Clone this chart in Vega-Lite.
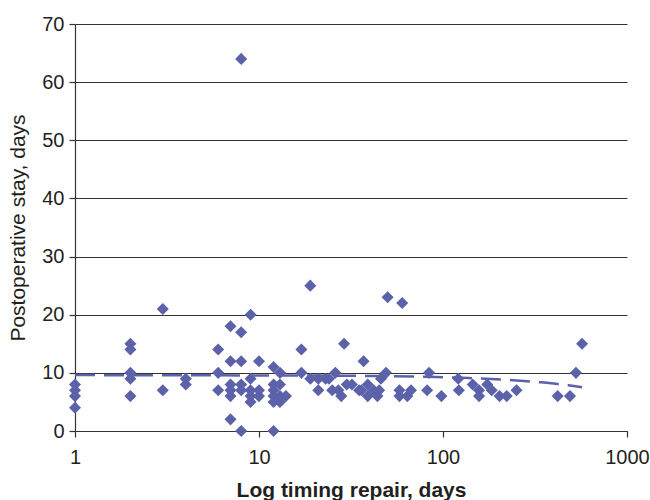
{
  "$schema": "https://vega.github.io/schema/vega-lite/v6.json",
  "autosize": "none",
  "width": 552,
  "height": 407,
  "padding": {"left": 75, "top": 24, "right": 23, "bottom": 69},
  "background": "white",
  "config": {
    "view": {"stroke": null},
    "font": "Liberation Sans",
    "axis": {
      "labelFont": "Liberation Sans",
      "titleFont": "Liberation Sans",
      "labelFontSize": 20,
      "titleFontSize": 21,
      "labelColor": "#231f20",
      "titleColor": "#231f20",
      "domainColor": "#333333",
      "domainWidth": 1.2,
      "tickColor": "#333333",
      "tickWidth": 1.2,
      "tickSize": 6,
      "gridColor": "#333333",
      "gridWidth": 1,
      "gridOpacity": 1
    }
  },
  "data": {
    "values": [
      {"timing": 1, "stay": 8}, {"timing": 1, "stay": 7}, {"timing": 1, "stay": 6}, {"timing": 1, "stay": 4},
      {"timing": 2, "stay": 15}, {"timing": 2, "stay": 14}, {"timing": 2, "stay": 10}, {"timing": 2, "stay": 9}, {"timing": 2, "stay": 6},
      {"timing": 3, "stay": 21}, {"timing": 3, "stay": 7},
      {"timing": 4, "stay": 9}, {"timing": 4, "stay": 8},
      {"timing": 6, "stay": 14}, {"timing": 6, "stay": 10}, {"timing": 6, "stay": 7},
      {"timing": 7, "stay": 18}, {"timing": 7, "stay": 12}, {"timing": 7, "stay": 8}, {"timing": 7, "stay": 7}, {"timing": 7, "stay": 6}, {"timing": 7, "stay": 2},
      {"timing": 8, "stay": 64}, {"timing": 8, "stay": 17}, {"timing": 8, "stay": 12}, {"timing": 8, "stay": 8}, {"timing": 8, "stay": 7}, {"timing": 8, "stay": 0},
      {"timing": 9, "stay": 20}, {"timing": 9, "stay": 9}, {"timing": 9, "stay": 7}, {"timing": 9, "stay": 6}, {"timing": 9, "stay": 5},
      {"timing": 10, "stay": 12}, {"timing": 10, "stay": 7}, {"timing": 10, "stay": 6},
      {"timing": 12, "stay": 11}, {"timing": 12, "stay": 8}, {"timing": 12, "stay": 7}, {"timing": 12, "stay": 6}, {"timing": 12, "stay": 5}, {"timing": 12, "stay": 0},
      {"timing": 13, "stay": 10}, {"timing": 13, "stay": 8}, {"timing": 13, "stay": 6}, {"timing": 13, "stay": 5},
      {"timing": 14, "stay": 6},
      {"timing": 17, "stay": 14}, {"timing": 17, "stay": 10},
      {"timing": 19, "stay": 25}, {"timing": 19, "stay": 9},
      {"timing": 21, "stay": 9}, {"timing": 21, "stay": 7},
      {"timing": 23, "stay": 9},
      {"timing": 24, "stay": 9},
      {"timing": 25, "stay": 7},
      {"timing": 26, "stay": 10},
      {"timing": 27, "stay": 7}, {"timing": 28, "stay": 6},
      {"timing": 29, "stay": 15},
      {"timing": 30, "stay": 8}, {"timing": 32, "stay": 8},
      {"timing": 35, "stay": 7}, {"timing": 36, "stay": 7},
      {"timing": 37, "stay": 12},
      {"timing": 39, "stay": 8}, {"timing": 39, "stay": 6},
      {"timing": 42, "stay": 7}, {"timing": 44, "stay": 6}, {"timing": 45, "stay": 7},
      {"timing": 46, "stay": 9}, {"timing": 49, "stay": 10},
      {"timing": 50, "stay": 23},
      {"timing": 58, "stay": 7}, {"timing": 58, "stay": 6},
      {"timing": 60, "stay": 22},
      {"timing": 64, "stay": 6}, {"timing": 67, "stay": 7},
      {"timing": 82, "stay": 7}, {"timing": 84, "stay": 10},
      {"timing": 98, "stay": 6},
      {"timing": 121, "stay": 9}, {"timing": 122, "stay": 7},
      {"timing": 145, "stay": 8},
      {"timing": 157, "stay": 7}, {"timing": 157, "stay": 6},
      {"timing": 174, "stay": 8}, {"timing": 184, "stay": 7},
      {"timing": 203, "stay": 6}, {"timing": 222, "stay": 6},
      {"timing": 251, "stay": 7},
      {"timing": 420, "stay": 6}, {"timing": 490, "stay": 6},
      {"timing": 528, "stay": 10}, {"timing": 570, "stay": 15}
    ]
  },
  "encoding": {
    "x": {
      "field": "timing",
      "type": "quantitative",
      "scale": {"type": "log", "domain": [1, 1000]},
      "axis": {
        "title": "Log timing repair, days",
        "titleFontWeight": "bold",
        "titleY": 65,
        "titleBaseline": "alphabetic",
        "values": [1, 10, 100, 1000],
        "format": "d",
        "labelPadding": 10,
        "grid": false,
        "labelFlush": false,
        "labelOverlap": false
      }
    },
    "y": {
      "field": "stay",
      "type": "quantitative",
      "scale": {"domain": [0, 70], "nice": false},
      "axis": {
        "title": "Postoperative stay, days",
        "titleFontWeight": "normal",
        "titleX": -57,
        "titleBaseline": "middle",
        "values": [0, 10, 20, 30, 40, 50, 60, 70],
        "labelPadding": 5,
        "grid": true
      }
    }
  },
  "layer": [
    {
      "mark": {"type": "point", "shape": "diamond", "filled": true, "size": 145, "color": "#5c62a9", "opacity": 1}
    },
    {
      "transform": [
        {"regression": "stay", "on": "timing", "method": "poly", "order": 1}
      ],
      "mark": {"type": "line", "color": "#5c62a9", "strokeWidth": 2.5, "strokeDash": [20, 9]}
    }
  ]
}
